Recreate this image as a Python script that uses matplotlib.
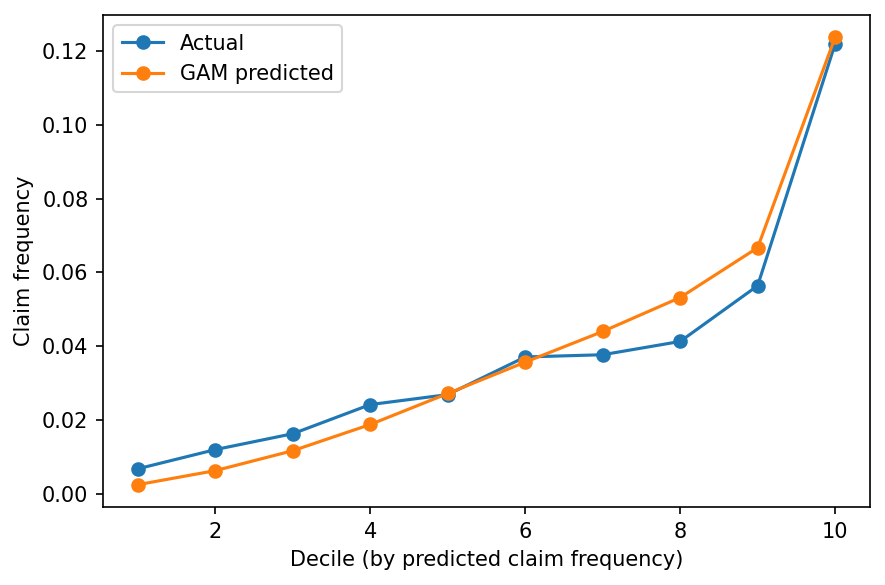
import matplotlib
matplotlib.use("Agg")
import matplotlib.pyplot as plt

deciles = [1, 2, 3, 4, 5, 6, 7, 8, 9, 10]
actual = [0.0068, 0.0120, 0.0163, 0.0242, 0.0269, 0.0371, 0.0377, 0.0413, 0.0564, 0.1219]
gam_pred = [0.0025, 0.0063, 0.0117, 0.0188, 0.0272, 0.0357, 0.0440, 0.0532, 0.0667, 0.1237]

fig, ax = plt.subplots(figsize=(5.9, 3.9), dpi=150)
ax.plot(deciles, actual, marker="o", label="Actual")
ax.plot(deciles, gam_pred, marker="o", label="GAM predicted")
ax.set_xlabel("Decile (by predicted claim frequency)")
ax.set_ylabel("Claim frequency")
ax.legend(loc="upper left")
fig.subplots_adjust(left=0.1164, right=0.983, top=0.9744, bottom=0.1333)
fig.savefig("out.png", dpi=150)
